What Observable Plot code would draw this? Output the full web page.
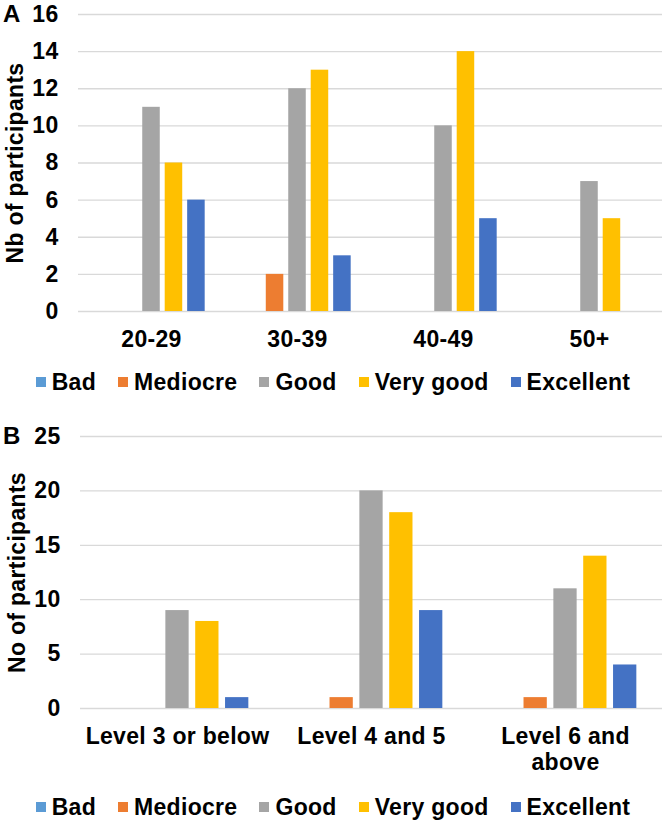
<!DOCTYPE html>
<html>
<head>
<meta charset="utf-8">
<script src="https://cdn.jsdelivr.net/npm/d3@7"></script>
<script src="https://cdn.jsdelivr.net/npm/@observablehq/plot@0.6"></script>
<style>
  html, body { margin: 0; padding: 0; background: #fff; }
  #root { position: relative; width: 666px; height: 823px; font-family: "Liberation Sans", Arial, sans-serif; font-weight: bold; color: #000; }
  .panel { position: absolute; left: 0; }
  .tag { position: absolute; left: 3px; font-size: 24px; line-height: 28px; }
  .legend { position: absolute; left: 0; width: 666px; height: 30px; display: flex; justify-content: center; align-items: center; gap: 22px; font-size: 23px; letter-spacing: 0.3px; }
  .legend .item { display: flex; align-items: center; gap: 6px; }
  .legend .sw { width: 10px; height: 10px; display: inline-block; }
</style>
</head>
<body>
<div id="root"></div>
<script>
// ---- data ----
const ratings = ["Bad", "Mediocre", "Good", "Very good", "Excellent"];
const ratingColors = ["#5B9BD5", "#ED7D31", "#A5A5A5", "#FFC000", "#4472C4"];

const ageGroups = ["20-29", "30-39", "40-49", "50+"];
const ageBad = [0, 0, 0, 0];
const ageMediocre = [0, 2, 0, 0];
const ageGood = [11, 12, 10, 7];
const ageVeryGood = [8, 13, 14, 5];
const ageExcellent = [6, 3, 5, 0];
const ageTicks = [0, 2, 4, 6, 8, 10, 12, 14, 16];

const levels = ["Level 3 or below", "Level 4 and 5", "Level 6 and above"];
const levelTickLabels = ["Level 3 or below", "Level 4 and 5", "Level 6 and\nabove"];
const levelBad = [0, 0, 0];
const levelMediocre = [0, 1, 1];
const levelGood = [9, 20, 11];
const levelVeryGood = [8, 18, 14];
const levelExcellent = [1, 9, 4];
const levelTicks = [0, 5, 10, 15, 20, 25];

function toRows(cats, series) {
  const rows = [];
  cats.forEach((c, i) => {
    ratings.forEach((r, j) => rows.push({cat: c, rating: r, value: series[j][i]}));
  });
  return rows;
}

const ageRows = toRows(ageGroups, [ageBad, ageMediocre, ageGood, ageVeryGood, ageExcellent]);
const levelRows = toRows(levels, [levelBad, levelMediocre, levelGood, levelVeryGood, levelExcellent]);

function panel({rows, cats, tickLabels, ticks, yMax, label, height, mt, mb, ml, mr, fxPad}) {
  return Plot.plot({
    width: 666,
    height,
    marginTop: mt,
    marginBottom: mb,
    marginLeft: ml,
    marginRight: mr,
    style: {fontFamily: "'Liberation Sans', Arial, sans-serif", fontWeight: "bold", fontSize: "23px", color: "#000", background: "#fff", letterSpacing: "0.3px", overflow: "visible"},
    fx: {domain: cats, padding: 0, label: null},
    x: {domain: ratings, paddingInner: 0.22, paddingOuter: 0.86, axis: null, round: false},
    y: {domain: [0, yMax], label: null},
    color: {domain: ratings, range: ratingColors},
    marks: [
      Plot.gridY(ticks, {stroke: "#d9d9d9", strokeOpacity: 1, strokeWidth: 1.3}),
      Plot.barY(rows, {fx: "cat", x: "rating", y: "value", fill: "rating"}),
      Plot.axisY({ticks, tickSize: 0, tickPadding: 20, label, labelAnchor: "center", labelOffset: 72, labelArrow: "none", fontSize: 23}),
      Plot.axisFx({anchor: "bottom", tickSize: 0, tickPadding: fxPad, label: null, lineHeight: 1.12, fontSize: 23,
        tickFormat: (d) => tickLabels[cats.indexOf(d)]})
    ]
  });
}

const root = document.getElementById("root");

const svgA = panel({rows: ageRows, cats: ageGroups, tickLabels: ageGroups, ticks: ageTicks, yMax: 16,
  label: "Nb of participants", height: 360, mt: 14, mb: 49, ml: 78, mr: 4, fxPad: 17});
svgA.classList.add("panel");
svgA.style.top = "0px";
root.appendChild(svgA);

const svgB = panel({rows: levelRows, cats: levels, tickLabels: levelTickLabels, ticks: levelTicks, yMax: 25,
  label: "No of participants", height: 380, mt: 30, mb: 78, ml: 79, mr: 3, fxPad: 17});
svgB.classList.add("panel");
svgB.style.top = "406px";
root.appendChild(svgB);

function legend(top) {
  const div = document.createElement("div");
  div.className = "legend";
  div.style.top = top + "px";
  ratings.forEach((r, i) => {
    const it = document.createElement("span");
    it.className = "item";
    const sw = document.createElement("span");
    sw.className = "sw";
    sw.style.background = ratingColors[i];
    const t = document.createElement("span");
    t.textContent = r;
    it.appendChild(sw);
    it.appendChild(t);
    div.appendChild(it);
  });
  root.appendChild(div);
}
legend(367);
legend(792);

function tag(text, centerY) {
  const d = document.createElement("div");
  d.className = "tag";
  d.textContent = text;
  d.style.top = (centerY - 15) + "px";
  root.appendChild(d);
}
tag("A", 15);
tag("B", 437);
</script>
</body>
</html>
